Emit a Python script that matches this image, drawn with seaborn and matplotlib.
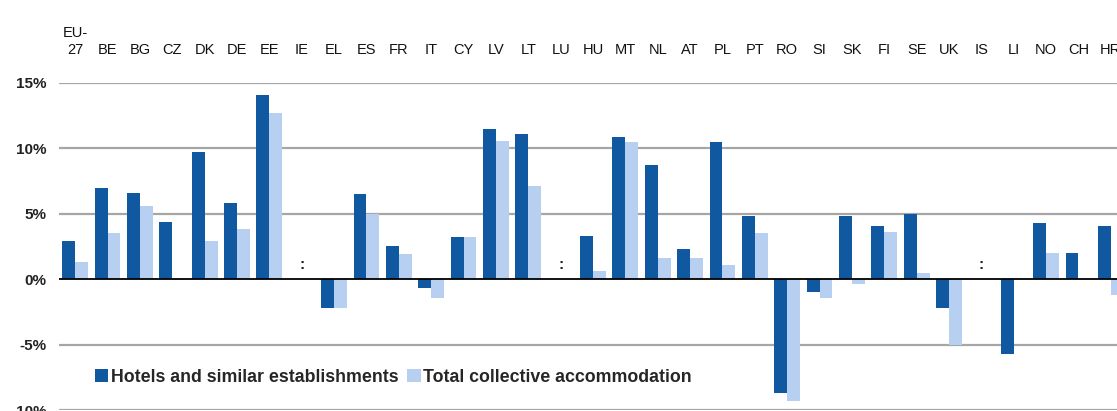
import numpy as np
import pandas as pd
import matplotlib
matplotlib.use("Agg")
import matplotlib.pyplot as plt
import seaborn as sns

# Country codes (EU-27 shown on two lines as in the original)
countries = ["EU-\n27", "BE", "BG", "CZ", "DK", "DE", "EE", "IE", "EL", "ES", "FR",
             "IT", "CY", "LV", "LT", "LU", "HU", "MT", "NL", "AT", "PL", "PT",
             "RO", "SI", "SK", "FI", "SE", "UK", "IS", "LI", "NO", "CH", "HR"]

# Growth rates in %, NaN = not available (":")
hotels = [2.9, 7.0, 6.6, 4.4, 9.7, 5.8, 14.1, np.nan, -2.2, 6.5, 2.5,
          -0.7, 3.2, 11.5, 11.1, np.nan, 3.3, 10.9, 8.7, 2.3, 10.5, 4.8,
          -8.7, -1.0, 4.8, 4.1, 5.0, -2.2, np.nan, -5.7, 4.3, 2.0, 4.1]
total = [1.3, 3.5, 5.6, -0.05, 2.9, 3.8, 12.7, np.nan, -2.2, 5.0, 1.9,
         -1.4, 3.2, 10.6, 7.1, np.nan, 0.6, 10.5, 1.6, 1.6, 1.1, 3.5,
         -9.3, -1.4, -0.4, 3.6, 0.5, -5.0, np.nan, np.nan, 2.0, np.nan, -1.2]

missing = ["IE", "LU", "IS"]

series_names = ["Hotels and similar establishments", "Total collective accommodation"]
colors = ["#10589F", "#B7CFF0"]

df = pd.DataFrame({
    "Country": countries * 2,
    "Series": [series_names[0]] * len(countries) + [series_names[1]] * len(countries),
    "Value": hotels + total,
})

sns.set_style("white")
plt.rcParams["font.family"] = ["Liberation Sans", "DejaVu Sans"]

fig = plt.figure(figsize=(11.17, 4.11), dpi=100)
ax = fig.add_axes([59 / 1117, 1 / 411, 1068 / 1117, 327 / 411])

sns.barplot(data=df, x="Country", y="Value", hue="Series", order=countries,
            hue_order=series_names, palette=colors, errorbar=None, width=0.8,
            saturation=1, linewidth=0, ax=ax)

ax.set_xlim(-0.5, len(countries) - 0.5)
ax.set_ylim(-10, 15)
ax.set_yticks([-10, -5, 0, 5, 10, 15])
ax.set_yticklabels(["-10%", "-5%", "0%", "5%", "10%", "15%"],
                   fontsize=11, fontweight="bold", color="#222222")
ax.tick_params(axis="y", length=0, pad=9)

# grid lines and zero line
for v in [-10, -5, 5, 10, 15]:
    ax.axhline(v, color="#A6A6A6", linewidth=1.6, zorder=0)
ax.axhline(0, color="black", linewidth=1.3, zorder=3)

# country labels at the top
ax.xaxis.tick_top()
ax.set_xticks(range(len(countries)))
ax.set_xticklabels(countries, fontsize=10.5, color="#111111")
ax.tick_params(axis="x", length=0, pad=19)
ax.set_xlabel("")
ax.set_ylabel("")

# ":" for not available
for c in missing:
    ax.text(countries.index(c), 0.55, ":", ha="center", va="bottom",
            fontsize=11, fontweight="bold", color="#222222")

for s in ax.spines.values():
    s.set_visible(False)

ax.legend(loc="center left", bbox_to_anchor=(0.027, 0.1), ncol=2, frameon=False,
          prop={"size": 12.8, "weight": "bold"}, handlelength=0.75, handleheight=0.75,
          handletextpad=0.15, columnspacing=0.5, borderaxespad=0)

fig.savefig("out.png", dpi=100)
